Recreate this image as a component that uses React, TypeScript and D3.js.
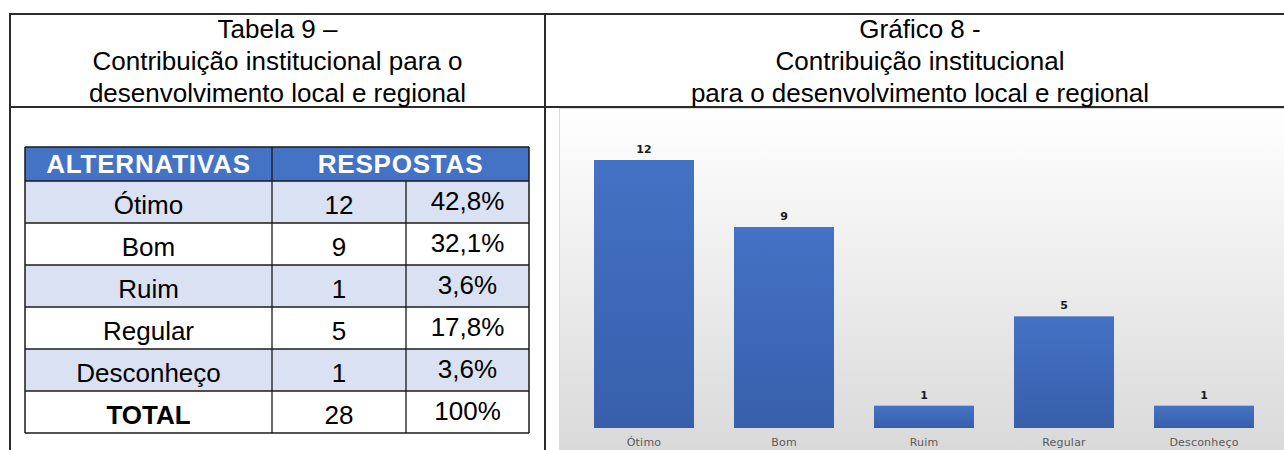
import React from 'react';
import * as d3 from 'd3';

const categories = ['Ótimo', 'Bom', 'Ruim', 'Regular', 'Desconheço'];
const counts = [12, 9, 1, 5, 1];
const percents = ['42,8%', '32,1%', '3,6%', '17,8%', '3,6%'];
const totalRow = ['TOTAL', '28', '100%'];
const headers = ['ALTERNATIVAS', 'RESPOSTAS'];
const leftTitle = ['Tabela 9 –', 'Contribuição institucional para o', 'desenvolvimento local e regional'];
const rightTitle = ['Gráfico 8 -', 'Contribuição institucional', 'para o desenvolvimento local e regional'];

const W = 1284;
const H = 450;
const SANS = "'Liberation Sans', Arial, sans-serif";
const CHART_FONT = "'DejaVu Sans', Verdana, sans-serif";

export default function App() {
  // chart scales
  const x = d3.scaleBand<string>().domain(categories).range([574, 1274]).paddingInner(40 / 140).paddingOuter(20 / 140);
  const y = d3.scaleLinear().domain([0, 12]).range([428, 160]);

  // table geometry
  const colEdges = [25, 272, 406, 529];
  const headerTop = 147;
  const headerBottom = 181;
  const rowH = 42;
  const rowY = d3.scaleLinear().domain([0, 1]).range([headerBottom, headerBottom + rowH]);
  const bodyRows = categories.map((c, i) => [c, String(counts[i]), percents[i]]);
  const allRows = [...bodyRows, totalRow];
  const tableBottom = rowY(allRows.length);

  const frame = '#2b2b2b';

  return (
    <svg width={W} height={H} style={{ position: 'absolute', left: 0, top: 0, background: '#fff' }}>
      <defs>
        <linearGradient id="panelGrad" x1="0" y1="0" x2="0" y2="1">
          <stop offset="0" stopColor="#ffffff" />
          <stop offset="1" stopColor="#d8d8d8" />
        </linearGradient>
        <linearGradient id="barGrad" x1="0" y1="0" x2="0" y2="1">
          <stop offset="0" stopColor="#4472c4" />
          <stop offset="1" stopColor="#375fab" />
        </linearGradient>
      </defs>

      {/* chart panel */}
      <rect x={559.5} y={108.5} width={760} height={352} fill="url(#panelGrad)" stroke="#d9d9d9" strokeWidth={1} />

      {/* outer frame */}
      <line x1={10} y1={14} x2={W} y2={14} stroke={frame} strokeWidth={2} />
      <line x1={10} y1={107} x2={W} y2={107} stroke={frame} strokeWidth={2} />
      <line x1={10} y1={13} x2={10} y2={H} stroke={frame} strokeWidth={2} />
      <line x1={545} y1={13} x2={545} y2={H} stroke={frame} strokeWidth={2} />

      {/* titles */}
      {leftTitle.map((t, i) => (
        <text key={'lt' + i} x={277.5} y={38 + i * 32} textAnchor="middle" fontFamily={SANS} fontSize={26} fill="#000">{t}</text>
      ))}
      {rightTitle.map((t, i) => (
        <text key={'rt' + i} x={920} y={38 + i * 32} textAnchor="middle" fontFamily={SANS} fontSize={26} fill="#000">{t}</text>
      ))}

      {/* table header */}
      <rect x={colEdges[0]} y={headerTop} width={colEdges[3] - colEdges[0]} height={headerBottom - headerTop} fill="#4472c4" />
      <text x={(colEdges[0] + colEdges[1]) / 2} y={headerTop + 26} textAnchor="middle" fontFamily={SANS} fontWeight="bold" fontSize={26} letterSpacing={0.8} fill="#fff">{headers[0]}</text>
      <text x={(colEdges[1] + colEdges[3]) / 2} y={headerTop + 26} textAnchor="middle" fontFamily={SANS} fontWeight="bold" fontSize={26} letterSpacing={0.8} fill="#fff">{headers[1]}</text>

      {/* table rows */}
      {allRows.map((row, i) => {
        const top = rowY(i);
        const fill = i % 2 === 0 && i < bodyRows.length ? '#d9e1f2' : '#ffffff';
        return (
          <g key={'row' + i}>
            <rect x={colEdges[0]} y={top} width={colEdges[3] - colEdges[0]} height={rowH} fill={fill} />
            {row.map((cell, j) => (
              <text
                key={j}
                x={(colEdges[j] + colEdges[j + 1]) / 2}
                y={top + (j === 2 ? 29 : 33)}
                textAnchor="middle"
                fontFamily={SANS}
                fontSize={26}
                fontWeight={i === allRows.length - 1 && j === 0 ? 'bold' : 'normal'}
                fill="#000"
              >{cell}</text>
            ))}
          </g>
        );
      })}

      {/* table grid lines */}
      {d3.range(allRows.length + 1).map(i => (
        <line key={'h' + i} x1={colEdges[0]} x2={colEdges[3]} y1={rowY(i)} y2={rowY(i)} stroke="#1a1a1a" strokeWidth={1.3} />
      ))}
      <line x1={colEdges[0]} x2={colEdges[3]} y1={headerTop} y2={headerTop} stroke="#1a1a1a" strokeWidth={1.5} />
      <line x1={colEdges[0]} x2={colEdges[0]} y1={headerTop} y2={tableBottom} stroke="#1a1a1a" strokeWidth={1.5} />
      <line x1={colEdges[3]} x2={colEdges[3]} y1={headerTop} y2={tableBottom} stroke="#1a1a1a" strokeWidth={1.5} />
      <line x1={colEdges[1]} x2={colEdges[1]} y1={headerTop} y2={tableBottom} stroke="#1a1a1a" strokeWidth={1.3} />
      <line x1={colEdges[2]} x2={colEdges[2]} y1={headerBottom} y2={tableBottom} stroke="#1a1a1a" strokeWidth={1.3} />

      {/* bars */}
      {categories.map((c, i) => (
        <g key={'bar' + i}>
          <rect x={x(c)} y={y(counts[i])} width={x.bandwidth()} height={y(0) - y(counts[i])} fill="url(#barGrad)" />
          <text x={(x(c) as number) + x.bandwidth() / 2} y={y(counts[i]) - 7} textAnchor="middle" fontFamily={CHART_FONT} fontWeight="bold" fontSize={11} fill="#1a1a1a">{counts[i]}</text>
          <text x={(x(c) as number) + x.bandwidth() / 2} y={446} textAnchor="middle" fontFamily={CHART_FONT} fontSize={11} letterSpacing={0.2} fill="#595959">{c}</text>
        </g>
      ))}
    </svg>
  );
}
